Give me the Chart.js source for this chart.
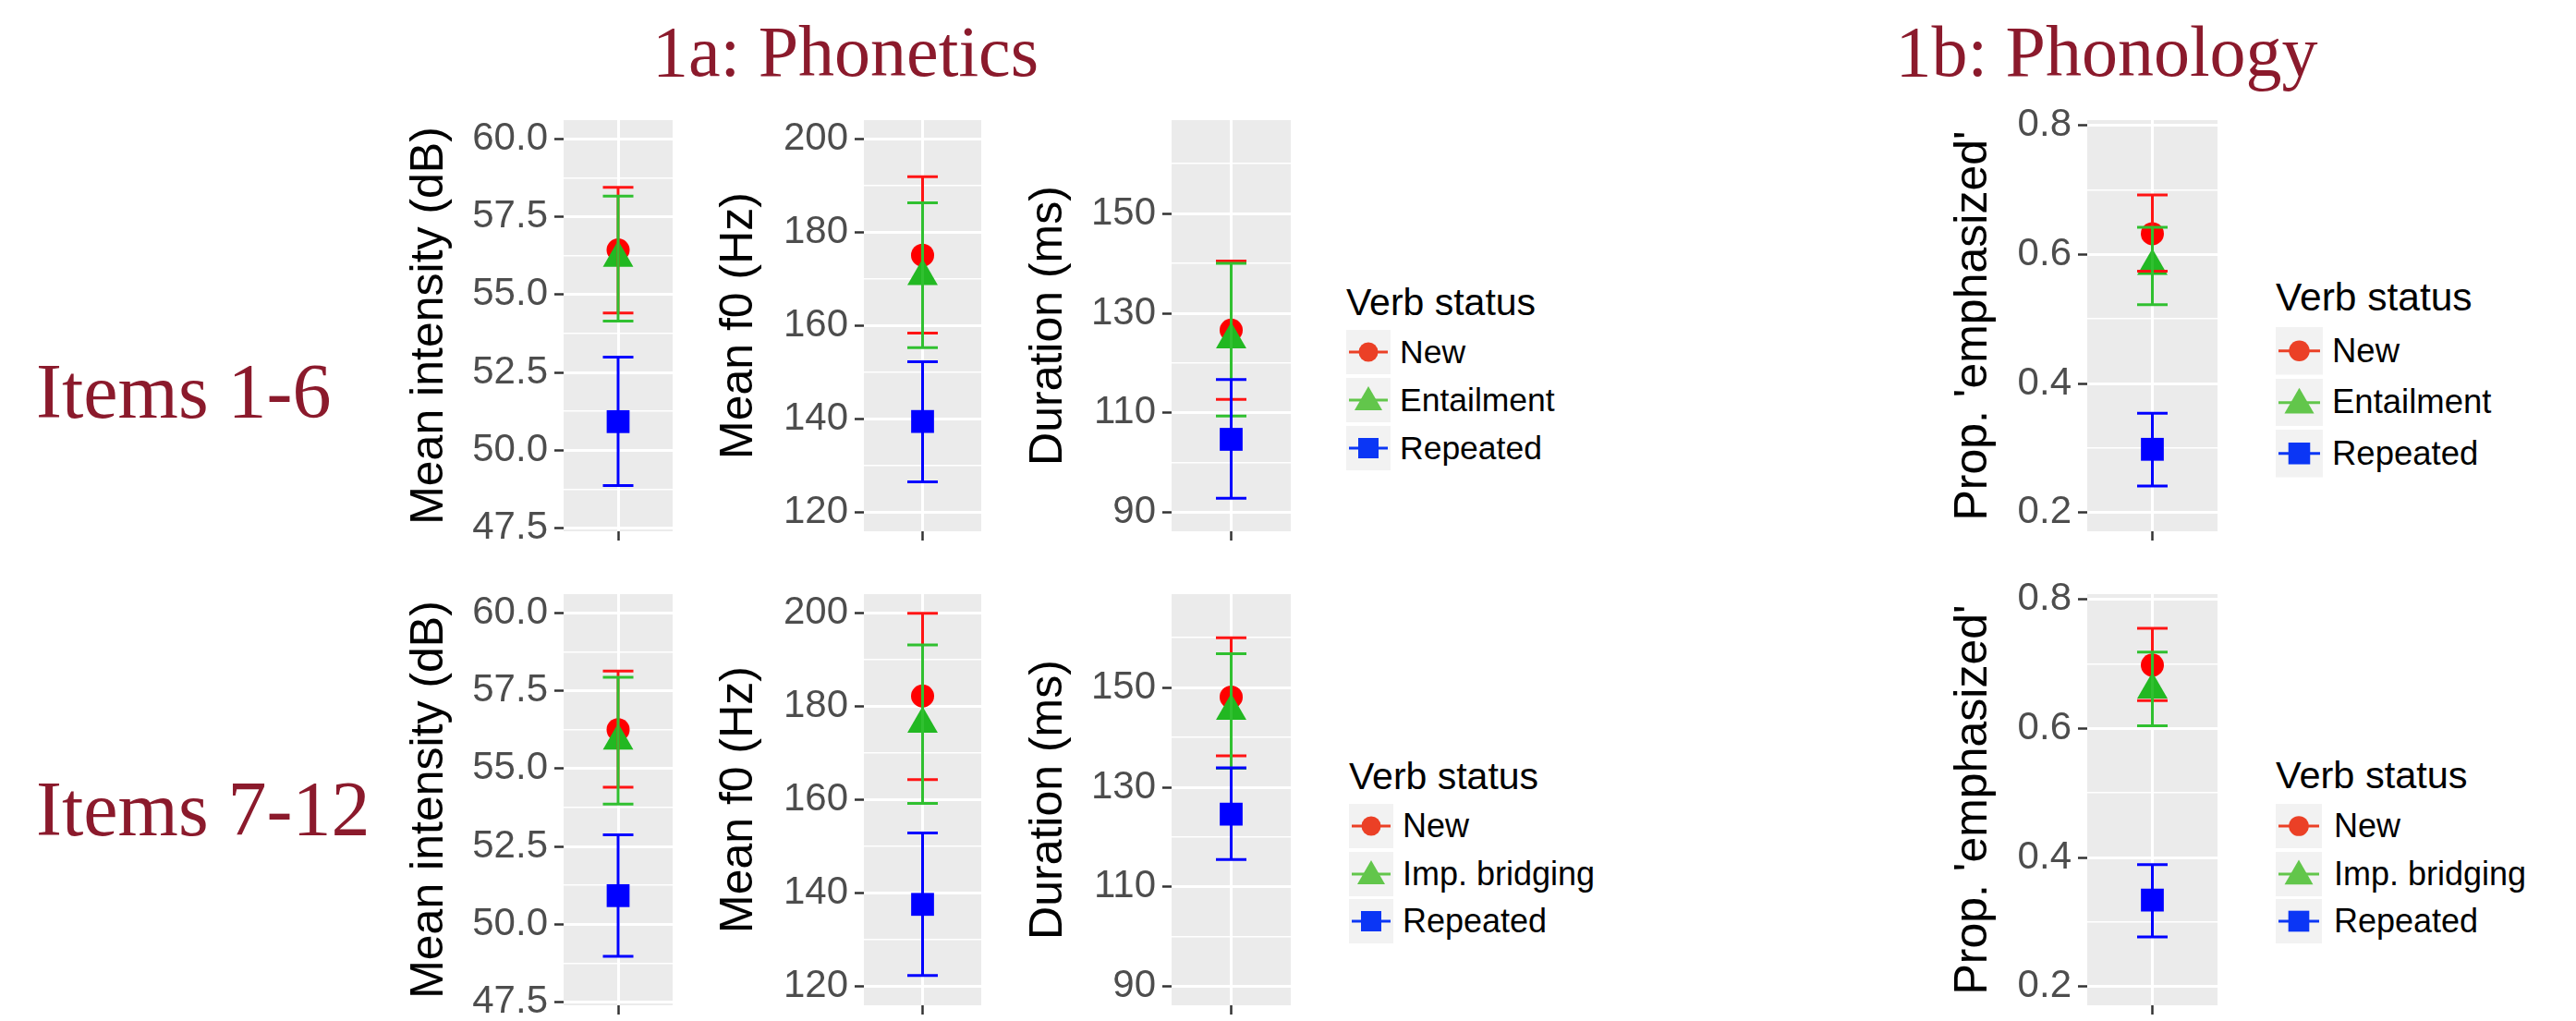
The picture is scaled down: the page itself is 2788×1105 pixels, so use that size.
<!DOCTYPE html>
<html><head><meta charset="utf-8">
<script src="https://cdn.jsdelivr.net/npm/chart.js@4.4.0/dist/chart.umd.min.js"></script>
<style>
html,body{margin:0;padding:0;background:#fff;width:2788px;height:1105px;overflow:hidden;position:relative;}
canvas{position:absolute;}
.t{position:absolute;white-space:nowrap;line-height:1;}
.serif{font-family:"Liberation Serif","Times New Roman",serif;color:#8B1A2C;}
.sans{font-family:"Liberation Sans",Arial,sans-serif;color:#000;}
svg{position:absolute;}
</style></head><body>
<script>
// ---------------- DATA ----------------
const xCategory = [0];
const panelTitles = ['1a: Phonetics', '1b: Phonology'];
const rowLabels = ['Items 1-6', 'Items 7-12'];
const legendTitle = 'Verb status';
const statusTop = ['New', 'Entailment', 'Repeated'];
const statusBottom = ['New', 'Imp. bridging', 'Repeated'];
const axisTitles = ['Mean intensity (dB)', 'Mean f0 (Hz)', 'Duration (ms)', "Prop. 'emphasized'"];

const intensityTicks = [47.5, 50.0, 52.5, 55.0, 57.5, 60.0];
const intensityMinorTicks = [48.75, 51.25, 53.75, 56.25, 58.75];
const f0Ticks = [120, 140, 160, 180, 200];
const f0MinorTicks = [130, 150, 170, 190];
const durationTicks = [90, 110, 130, 150];
const durationMinorTicks = [100, 120, 140, 160];
const propTicks = [0.2, 0.4, 0.6, 0.8];
const propMinorTicks = [0.3, 0.5, 0.7];

const intensityRange = [47.4, 60.6];
const f0Range = [116, 204];
const durationRange = [86.25, 168.75];
const propRange = [0.171, 0.808];

// Items 1-6 : [New, Entailment, Repeated]
const intensity16Mean = [56.43, 56.17, 50.92];
const intensity16Low  = [54.41, 54.15, 48.87];
const intensity16High = [58.44, 58.16, 52.99];
const f016Mean = [175.1, 170.6, 139.5];
const f016Low  = [158.4, 155.3, 126.6];
const f016High = [191.9, 186.3, 152.3];
const duration16Mean = [126.6, 124.7, 104.7];
const duration16Low  = [112.7, 109.4, 92.9];
const duration16High = [140.5, 140.0, 116.7];
const prop16Mean = [0.632, 0.582, 0.298];
const prop16Low  = [0.574, 0.522, 0.241];
const prop16High = [0.692, 0.642, 0.354];

// Items 7-12 : [New, Imp. bridging, Repeated]
const intensity712Mean = [56.25, 55.89, 50.92];
const intensity712Low  = [54.40, 53.86, 48.97];
const intensity712High = [58.13, 57.93, 52.87];
const f0712Mean = [182.2, 176.2, 137.6];
const f0712Low  = [164.3, 159.2, 122.4];
const f0712High = [199.9, 193.1, 152.9];
const duration712Mean = [148.1, 145.3, 124.6];
const duration712Low  = [136.3, 133.8, 115.5];
const duration712High = [160.0, 156.8, 133.9];
const prop712Mean = [0.698, 0.660, 0.334];
const prop712Low  = [0.643, 0.604, 0.277];
const prop712High = [0.755, 0.718, 0.389];

// ---------------- STYLE / LAYOUT ----------------
const SANS = '"Liberation Sans", Arial, sans-serif';
const seriesStyle = [
  {color:'#FF0000', bar:'#FF1414', shape:'circle', radius:12.5},
  {color:'#22B822', bar:'#30C030', shape:'triangle', radius:19},
  {color:'#0000FF', bar:'#0000FF', shape:'rect', radius:17.5}
];
const legendColors = ['#EB4026', '#62C64B', '#0B36F5'];

const columns = [
  {left:435, plotLeft:610, plotRight:728, title:axisTitles[0], ticks:intensityTicks, minor:intensityMinorTicks, range:intensityRange, fmt:v=>v.toFixed(1)},
  {left:770, plotLeft:935, plotRight:1062, title:axisTitles[1], ticks:f0Ticks, minor:f0MinorTicks, range:f0Range, fmt:v=>String(v)},
  {left:1105, plotLeft:1268, plotRight:1397, title:axisTitles[2], ticks:durationTicks, minor:durationMinorTicks, range:durationRange, fmt:v=>String(v)},
  {left:2106, plotLeft:2259, plotRight:2400, title:axisTitles[3], ticks:propTicks, minor:propMinorTicks, range:propRange, fmt:v=>v.toFixed(1)}
];
const rows = [{top:130, bottom:575}, {top:643, bottom:1088}];
const panelData = [
  [[intensity16Mean, intensity16Low, intensity16High],
   [f016Mean, f016Low, f016High],
   [duration16Mean, duration16Low, duration16High],
   [prop16Mean, prop16Low, prop16High]],
  [[intensity712Mean, intensity712Low, intensity712High],
   [f0712Mean, f0712Low, f0712High],
   [duration712Mean, duration712Low, duration712High],
   [prop712Mean, prop712Low, prop712High]]
];

const panelBg = {
  id:'panelBg',
  beforeDraw(chart){
    const {ctx, chartArea:a} = chart;
    ctx.save(); ctx.fillStyle = '#EBEBEB';
    ctx.fillRect(a.left, a.top, a.right - a.left, a.bottom - a.top);
    ctx.restore();
  }
};

function makeChart(col, row, means, lows, highs) {
  const XH = 14, PT = 30;
  const w = col.plotRight - col.left, h = row.bottom - row.top + XH + PT;
  const cv = document.createElement('canvas');
  cv.width = w; cv.height = h;
  cv.style.left = col.left + 'px'; cv.style.top = (row.top - PT) + 'px';
  cv.style.width = w + 'px'; cv.style.height = h + 'px';
  document.body.appendChild(cv);
  const isMinor = v => col.minor.some(m => Math.abs(m - v) < 1e-9);
  const datasets = [];
  means.forEach((m, i) => {
    const st = seriesStyle[i];
    datasets.push({
      type:'line',
      data:[{x:xCategory[0], y:lows[i]}, {x:xCategory[0], y:highs[i]}],
      borderColor:st.bar, borderWidth:3, fill:false,
      pointStyle:'line', pointRadius:16.5, pointBorderColor:st.bar, pointBorderWidth:3,
      pointBackgroundColor:st.bar, pointHoverRadius:16.5,
      order:3 - i
    });
  });
  means.forEach((m, i) => {
    const st = seriesStyle[i];
    datasets.push({
      type:'scatter',
      data:[{x:xCategory[0], y:m}],
      pointStyle:st.shape, pointRadius:st.radius, pointHoverRadius:st.radius,
      backgroundColor:st.color, borderColor:st.color, borderWidth:0,
      order:6 - i
    });
  });
  new Chart(cv, {
    type:'scatter',
    data:{datasets},
    plugins:[panelBg],
    options:{
      responsive:false, animation:false, events:[],
      layout:{padding:{top:PT, left:0, right:0, bottom:0}, autoPadding:false},
      plugins:{legend:{display:false}, tooltip:{enabled:false}},
      scales:{
        x:{
          type:'linear', min:-1, max:1,
          afterBuildTicks:s => { s.ticks = xCategory.map(v => ({value:v})); },
          ticks:{callback:() => '', padding:0, font:{size:2}},
          grid:{color:'#FFFFFF', lineWidth:3, drawTicks:true, tickLength:10, tickColor:'#333333', tickWidth:2.5},
          border:{display:false},
          afterFit:s => { s.height = XH; s.paddingLeft = 0; s.paddingRight = 0; s.paddingTop = 0; s.paddingBottom = 0; }
        },
        y:{
          type:'linear', min:col.range[0], max:col.range[1],
          afterBuildTicks:s => { s.ticks = col.ticks.concat(col.minor).sort((a,b) => a - b).map(v => ({value:v})); },
          ticks:{autoSkip:false, callback:v => isMinor(v) ? '' : col.fmt(v), color:'#4D4D4D', font:{family:SANS, size:42}, padding:7},
          grid:{color:'#FFFFFF', lineWidth:c => isMinor(c.tick.value) ? 1.5 : 3,
                tickColor:c => isMinor(c.tick.value) ? 'rgba(0,0,0,0)' : '#333333',
                tickLength:10, tickWidth:2.5},
          border:{display:false},
          title:{display:true, text:col.title, color:'#000000', font:{family:SANS, size:50}, padding:0},
          afterFit:s => { s.width = col.plotLeft - col.left; s.paddingTop = 0; s.paddingBottom = 0; s.paddingLeft = 0; s.paddingRight = 0; }
        }
      }
    }
  });
}

rows.forEach((row, r) => {
  columns.forEach((col, c) => {
    const [m, lo, hi] = panelData[r][c];
    makeChart(col, row, m, lo, hi);
  });
});

// ---------------- TEXT ----------------
function addText(text, cls, left, top, size, extra) {
  const d = document.createElement('div');
  d.className = 't ' + cls;
  d.textContent = text;
  d.style.left = left + 'px'; d.style.top = top + 'px'; d.style.fontSize = size + 'px';
  if (extra) Object.assign(d.style, extra);
  document.body.appendChild(d);
  return d;
}
addText(panelTitles[0], 'serif', 915 - 600, 82 - 0.8375 * 78, 78, {width:'1200px', textAlign:'center'});
addText(panelTitles[1], 'serif', 2280 - 600, 82 - 0.8375 * 78, 78, {width:'1200px', textAlign:'center'});
addText(rowLabels[0], 'serif', 39, 452 - 0.8375 * 84, 84);
addText(rowLabels[1], 'serif', 39, 904 - 0.8375 * 84, 84);

// ---------------- LEGENDS ----------------
const NS = 'http://www.w3.org/2000/svg';
function keyGlyph(x, y, w, h, i, s) {
  const svg = document.createElementNS(NS, 'svg');
  svg.setAttribute('width', w); svg.setAttribute('height', h);
  svg.style.left = x + 'px'; svg.style.top = y + 'px';
  const col = legendColors[i];
  let html = `<rect x="0" y="0" width="${w}" height="${h}" fill="#F2F2F2"/>` +
             `<line x1="3" y1="${h/2}" x2="${w-3}" y2="${h/2}" stroke="${col}" stroke-width="3"/>`;
  const cx = w / 2, cy = h / 2;
  if (i === 0) html += `<circle cx="${cx}" cy="${cy}" r="${10.5*s}" fill="${col}"/>`;
  if (i === 1) html += `<polygon points="${cx},${cy-15*s} ${cx+15*s},${cy+11*s} ${cx-15*s},${cy+11*s}" fill="${col}"/>`;
  if (i === 2) html += `<rect x="${cx-11*s}" y="${cy-11*s}" width="${22*s}" height="${22*s}" fill="${col}"/>`;
  svg.innerHTML = html;
  document.body.appendChild(svg);
}
function makeLegend(cfg, labels) {
  addText(legendTitle, 'sans', cfg.left, cfg.titleBase - 0.8465 * cfg.titleSize, cfg.titleSize);
  labels.forEach((lab, i) => {
    const top = cfg.rowTops[i];
    keyGlyph(cfg.left, top, cfg.keyW, cfg.keyH, i, cfg.s);
    const center = top + cfg.keyH / 2;
    const base = center + 0.358 * cfg.labelSize;
    addText(lab, 'sans', cfg.labelLeft, base - 0.8465 * cfg.labelSize, cfg.labelSize);
  });
}
makeLegend({left:1457, titleBase:342, titleSize:41, rowTops:[357, 409, 461], keyW:48, keyH:48, labelLeft:1515, labelSize:35.5, s:1}, statusTop);
makeLegend({left:2463, titleBase:337, titleSize:42.5, rowTops:[354, 409.5, 465], keyW:51, keyH:51.5, labelLeft:2524, labelSize:36.5, s:1.07}, statusTop);
makeLegend({left:1460, titleBase:855, titleSize:41, rowTops:[870, 922, 973], keyW:48, keyH:48, labelLeft:1518, labelSize:36, s:1}, statusBottom);
makeLegend({left:2463, titleBase:853, titleSize:41.5, rowTops:[870, 922, 973], keyW:50, keyH:48, labelLeft:2526, labelSize:36, s:1.03}, statusBottom);
</script>
</body></html>
